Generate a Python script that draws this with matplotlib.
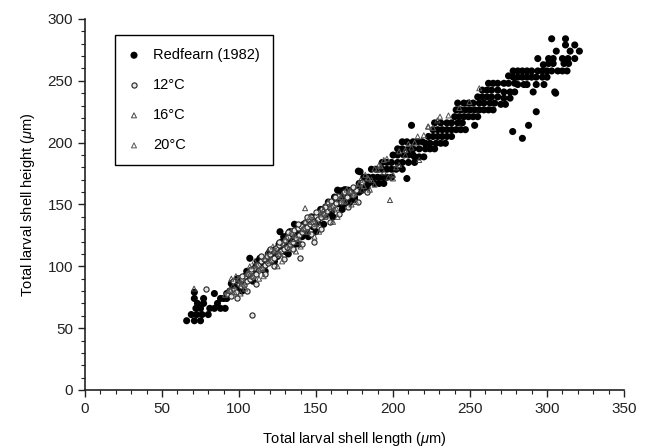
import matplotlib.pyplot as plt
from matplotlib.ticker import MultipleLocator

plt.rcParams['font.family'] = ['Liberation Sans', 'DejaVu Sans']
plt.rcParams['mathtext.fontset'] = 'custom'
plt.rcParams['mathtext.it'] = 'Liberation Sans:italic'
plt.rcParams['mathtext.rm'] = 'Liberation Sans'

# Redfearn (1982) - filled circles (length, height in um)
redfearn_x = [66, 71, 75, 69, 72.5, 76, 80, 72, 75, 81, 84, 88, 91, 73, 77, 86, 71, 77, 88, 92, 84, 71,
              90, 92, 94, 96, 98, 100, 101, 103, 104, 106, 107, 108, 110, 111, 113, 113.6, 115, 116, 118, 119,
              121, 122, 124, 125, 126.6, 127, 128, 130, 131, 132, 133, 134, 136, 137, 138, 140, 141, 143,
              144, 146, 148, 149, 151, 152, 154, 156, 157, 159, 160, 162, 163, 166, 168, 170, 172,
              95, 99, 102, 105, 109, 112, 117, 120, 123, 126, 129, 132, 135, 139, 142, 145, 147, 150,
              153, 155, 158, 161, 164, 167, 169, 173, 175, 178, 181, 183,
              162, 165, 168, 171, 162, 165, 168, 171, 175, 164, 168, 171, 174, 177, 180,
              178, 181, 184, 188, 191, 194, 184, 187, 190, 193, 196, 199, 177.5, 178.6,
              186, 189, 193, 196, 199, 202, 206, 193, 196, 199, 203, 206, 210, 214,
              200, 203, 207, 210, 213, 203, 206, 210, 213, 217, 221, 224, 227,
              206, 209, 213, 216, 219, 209, 212, 214, 217, 220,
              221, 224, 228, 231, 234, 223, 226, 229, 232, 235, 238,
              226, 229, 232, 235, 238, 241, 244, 247, 227, 231, 235, 238, 242, 245, 253,
              240, 243, 246, 249, 252, 255, 241, 244, 247, 250, 253, 256, 259, 262, 265,
              242, 246, 249, 252, 256, 259, 263, 266, 270, 273,
              255, 258, 261, 264, 268, 272, 276, 258, 261, 264, 268, 272, 276, 279, 291, 305,
              262, 265, 268, 272, 275, 279, 281, 285, 287, 293, 298, 275,
              278, 281, 284, 287, 290, 293, 297, 300,
              278, 281, 284, 287, 290, 294, 297, 300, 303, 307, 310, 313,
              297.6, 301, 304, 311, 314, 294, 301, 304, 310, 313.6, 318,
              306, 315, 321, 312, 318, 303, 312,
              277.7, 284, 288, 293, 305.6]
redfearn_y = [56, 56, 56, 61, 61, 61, 61, 66, 66, 66, 66, 66, 66, 70, 70, 70, 74, 74, 74, 74, 78, 79,
              74, 78, 80, 84, 82, 86, 90, 88, 92, 90, 106.5, 94, 96, 100, 98, 106.5, 104, 100, 106, 110,
              104, 110, 114, 108, 128, 116, 120, 112, 118, 126, 128, 122, 134, 118, 126, 130, 124, 132,
              128, 136, 132, 138, 136, 142, 140, 146, 142, 148, 144, 150, 155, 161, 153, 158, 152,
              86, 90, 80, 96, 88, 104, 96, 112, 104, 118, 124, 110, 128, 118, 134, 124, 140, 128,
              146, 134, 152, 140, 156, 146, 162, 160, 154, 160, 172, 164,
              150.5, 150.5, 150.5, 150.5, 156, 156, 156, 156, 156, 161.6, 161.6, 161.6, 161.6, 161.6, 161.6,
              167, 167, 167, 167, 167, 167, 172, 172, 172, 172, 172, 172, 177, 176.5,
              178.5, 178.5, 178.5, 178.5, 178.5, 178.5, 178.5, 184, 184, 184, 184, 184, 184, 184,
              190, 190, 190, 190, 190, 195, 195, 195, 195, 195, 195, 195, 195,
              200.7, 200.7, 200.7, 200.7, 200.7, 171, 214, 188.5, 188.5, 188.5,
              199.5, 199.5, 199.5, 199.5, 199.5, 205, 205, 205, 205, 205, 205,
              210.5, 210.5, 210.5, 210.5, 210.5, 210.5, 210.5, 210.5, 216, 216, 216, 216, 216, 216, 214,
              221, 221, 221, 221, 221, 221, 226.5, 226.5, 226.5, 226.5, 226.5, 226.5, 226.5, 226.5, 226.5,
              232, 232, 232, 232, 232, 232, 232, 232, 231, 231,
              237, 237, 237, 237, 237, 236, 236, 242.5, 242.5, 242.5, 242.5, 241, 241, 241, 241, 241,
              248, 248, 248, 248, 248, 248, 247, 247, 247, 247, 247, 254,
              253, 253, 253, 253, 253, 253, 253, 253,
              258, 258, 258, 258, 258, 258, 258, 258, 258, 258, 258, 258,
              263, 264, 264, 264, 264, 268, 268, 268, 268, 268, 268,
              274, 274, 274, 279, 279, 284, 284,
              209, 203.5, 214, 225, 240]

# 12 degC - open circles
c12_x = [78.4, 108.7, 139.6, 149, 92, 94, 95, 97, 98, 100, 101, 102, 103, 104, 105, 106, 107, 108, 109,
         110, 111, 112, 113, 114, 115, 116, 117, 118, 119, 120, 121, 122, 123, 124, 125, 126, 127, 128,
         129, 130, 131, 132, 133, 134, 135, 136, 137, 138, 139, 140, 141, 142, 143, 144, 145, 146, 147,
         148, 149, 150, 151, 152, 153, 154, 155, 156, 157, 158, 159, 160, 161, 162, 163, 164, 166, 168,
         170, 172, 174, 176,
         96, 99, 102, 105, 108, 111, 114, 117, 120, 123, 126, 129, 132, 135, 138, 141, 144, 147,
         150, 153, 156, 159, 162, 165, 168, 171, 174, 177, 180, 183]
c12_y = [82, 61, 106.5, 120, 78, 80, 76, 82, 79, 86, 84, 90, 85, 92, 88, 94, 90, 96, 91,
         99, 94, 101, 97, 104, 99, 106, 101, 108, 103, 110, 105, 112, 107, 115, 109, 117, 112, 119,
         114, 121, 116, 124, 118, 127, 120, 129, 123, 131, 125, 133, 128, 130, 136, 132, 138, 134, 140,
         136, 133, 141, 138, 144, 140, 146, 142, 149, 145, 151, 147, 153, 149, 155, 151, 157, 152, 159,
         156, 160, 158, 162,
         88, 74, 92, 80, 98, 86, 108, 94, 114, 100, 120, 106, 128, 114, 134, 118, 140, 126,
         144, 130, 148, 136, 156, 142, 160, 148, 164, 152, 168, 160]

# 16 degC - open triangles
c16_x = [70.8, 93, 96, 99, 102, 105, 108, 111, 114, 117, 120, 123, 126, 129, 132, 135, 138, 142.9,
         141, 144, 147, 150, 153, 156, 159, 162, 165, 168, 171, 174, 177, 180, 183.5, 186, 190, 194,
         198, 200, 204, 208, 212, 217, 222.7, 228.8,
         95, 101, 107, 113, 119, 125, 131, 137, 143, 149, 155, 161, 167, 173, 179, 185, 191, 197]
c16_y = [82, 80, 84, 88, 86, 94, 92, 100, 98, 106, 104, 112, 110, 118, 114, 122, 120, 147,
         130, 128, 136, 134, 142, 140, 148, 146, 154, 152, 160, 158, 165, 162, 171.6, 170, 178, 176,
         153.6, 174, 182, 190, 196, 186, 213, 218,
         90, 78, 100, 90, 112, 100, 124, 112, 136, 124, 146, 136, 158, 150, 170, 162, 182, 172]

# 20 degC - open triangles
c20_x = [91, 94, 97, 100, 103, 106, 109, 112, 115, 118, 121, 124, 127, 130, 133, 136, 139, 142, 145,
         148, 151, 154, 157, 160, 163, 166, 169, 172, 175, 178, 181, 184, 188, 192, 196, 200, 204, 210,
         216, 223, 230.5, 236, 243, 249.6, 256,
         98, 104, 110, 116, 122, 128, 134, 140, 146, 152, 158, 164, 170, 176, 182, 188, 194, 202,
         208, 214, 220, 226]
c20_y = [77, 81, 79, 90, 87, 95, 92, 101, 98, 108, 105, 113, 110, 121, 117, 125, 122, 131, 128,
         138, 135, 143, 141, 149, 147, 156, 153, 161, 159, 167, 165, 171, 179, 181, 187, 171, 193, 199,
         205, 213, 221, 222, 228, 233, 244,
         92, 82, 104, 92, 116, 104, 128, 116, 140, 128, 152, 140, 162, 152, 174, 166, 186, 180,
         194, 200, 206, 212]

fig = plt.figure(figsize=(6.46, 4.48), dpi=100)
ax = fig.add_axes([0.1316, 0.1295, 0.8344, 0.8281])

ax.scatter(redfearn_x, redfearn_y, s=26, c='black', edgecolors='none', zorder=2, label='Redfearn (1982)')
ax.scatter(c12_x, c12_y, s=14, marker='o', facecolors='#e6e6e6', edgecolors='#222222',
           linewidths=0.8, zorder=3, label='12°C')
ax.scatter(c16_x, c16_y, s=13, marker='^', facecolors='none', edgecolors='#444444',
           linewidths=0.7, zorder=4, label='16°C')
ax.scatter(c20_x, c20_y, s=13, marker='^', facecolors='none', edgecolors='#555555',
           linewidths=0.7, zorder=4, label='20°C')

ax.set_xlim(0, 350)
ax.set_ylim(0, 300)
ax.xaxis.set_major_locator(MultipleLocator(50))
ax.xaxis.set_minor_locator(MultipleLocator(10))
ax.yaxis.set_major_locator(MultipleLocator(50))
ax.yaxis.set_minor_locator(MultipleLocator(10))
ax.tick_params(which='major', direction='out', length=5, width=1, labelsize=11, colors='#222222')
ax.tick_params(which='minor', direction='out', length=3, width=0.8, colors='#222222')

for side in ['top', 'right']:
    ax.spines[side].set_visible(False)
for side in ['left', 'bottom']:
    ax.spines[side].set_linewidth(1.2)
    ax.spines[side].set_color('#222222')

ax.set_xlabel(r'Total larval shell length ($\mathit{\mu}$m)', fontsize=10.5, labelpad=10)
ax.set_ylabel(r'Total larval shell height ($\mathit{\mu}$m)', fontsize=10.5, labelpad=8)

leg = ax.legend(loc='upper left', bbox_to_anchor=(0.0557, 0.957), borderaxespad=0,
                fontsize=10.5, labelspacing=1.1, borderpad=0.9, handlelength=0.8,
                handletextpad=0.9, fancybox=False, framealpha=1, scatterpoints=1)
leg.get_frame().set_edgecolor('black')
leg.get_frame().set_linewidth(1.0)

fig.savefig('out.png', dpi=100)
